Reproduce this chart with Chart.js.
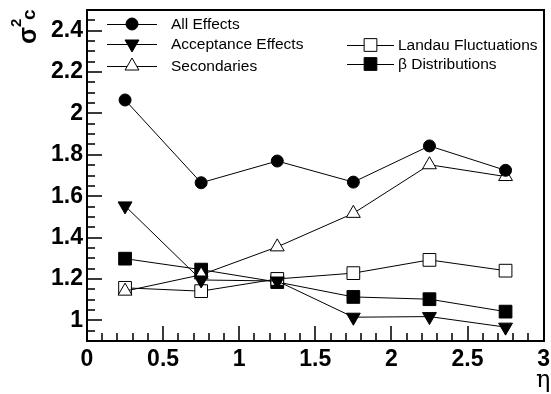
<!DOCTYPE html>
<html>
<head>
<meta charset="utf-8">
<script src="https://cdn.jsdelivr.net/npm/chart.js@4/dist/chart.umd.min.js"></script>
<style>
  html, body { margin: 0; padding: 0; background: #fff; overflow: hidden; }
  #wrap { width: 551px; height: 394px; position: relative; overflow: hidden; }
</style>
</head>
<body>
<div id="wrap"><canvas id="chart" width="555" height="394"></canvas></div>
<script>
// --- dados ---
const etaBins = [0.25, 0.75, 1.25, 1.75, 2.25, 2.75];
const allEffects = [2.065, 1.665, 1.770, 1.668, 1.843, 1.725];
const acceptanceEffects = [1.553, 1.195, 1.190, 1.015, 1.018, 0.967];
const secondaries = [1.141, 1.220, 1.355, 1.517, 1.752, 1.695];
const landauFluct = [1.157, 1.141, 1.200, 1.228, 1.292, 1.240];
const betaDistrib = [1.298, 1.245, 1.185, 1.113, 1.102, 1.042];
const xTicks = [0, 0.5, 1, 1.5, 2, 2.5, 3];
const yTicks = [1, 1.2, 1.4, 1.6, 1.8, 2, 2.2, 2.4];

const toPoints = ys => etaBins.map((x, i) => ({ x: x, y: ys[i] }));

const series = [
  { label: 'All Effects', data: allEffects, style: 'circle', radius: 6, fill: true, rot: 0 },
  { label: 'Acceptance Effects', data: acceptanceEffects, style: 'triangle', radius: 8, fill: true, rot: 180 },
  { label: 'Secondaries', data: secondaries, style: 'triangle', radius: 8, fill: false, rot: 0 },
  { label: 'Landau Fluctuations', data: landauFluct, style: 'rect', radius: 9, fill: false, rot: 0 },
  { label: 'β Distributions', data: betaDistrib, style: 'rect', radius: 9, fill: true, rot: 0 }
];

// posições da legenda (duas colunas, estilo ROOT)
const legendPos = [
  { x: 107, y: 24 }, { x: 107, y: 44 }, { x: 107, y: 66 },
  { x: 347, y: 45 }, { x: 347, y: 64 }
];

// --- ticks para dentro, desenhados antes das séries ---
const rootTicks = {
  id: 'rootTicks',
  beforeDatasetsDraw(chart) {
    const ctx = chart.ctx;
    const xs = chart.scales.x, ys = chart.scales.y;
    const a = chart.chartArea;
    const left = Math.round(a.left), bottom = Math.round(a.bottom);
    ctx.save();
    ctx.fillStyle = '#3a3a3a';
    for (let i = 1; i < 30; i++) {
      const len = (i % 5 === 0) ? 15 : 8;
      const px = Math.round(xs.getPixelForValue(i / 10));
      ctx.fillRect(px - 1, bottom - len, 2, len);
    }
    for (let i = 19; i <= 49; i++) {
      const len = (i % 4 === 0) ? 15 : 8;
      const py = Math.round(ys.getPixelForValue(i / 20));
      ctx.fillRect(left, py - 1, len, 2);
    }
    ctx.restore();
  }
};

// --- moldura, títulos e legenda ---
const rootStyle = {
  id: 'rootStyle',
  afterDraw(chart) {
    const ctx = chart.ctx;
    const a = chart.chartArea;
    const left = Math.round(a.left), right = Math.round(a.right);
    const top = Math.round(a.top), bottom = Math.round(a.bottom);
    ctx.save();

    // moldura
    ctx.fillStyle = '#000';
    ctx.fillRect(left - 1, top - 1, right - left + 2, 2);
    ctx.fillRect(left - 1, bottom - 1, right - left + 2, 2);
    ctx.fillRect(left - 1, top - 1, 2, bottom - top + 2);
    ctx.fillRect(right - 1, top - 1, 2, bottom - top + 2);

    // título do eixo y: sigma^2_c girado
    ctx.save();
    ctx.translate(36, 44);
    ctx.rotate(-Math.PI / 2);
    ctx.textAlign = 'left';
    ctx.textBaseline = 'alphabetic';
    ctx.font = 'bold 25px "Liberation Sans", Arial, sans-serif';
    ctx.fillText('σ', 0, 0);
    ctx.font = 'bold 15px "Liberation Sans", Arial, sans-serif';
    ctx.fillText('2', 17, -15);
    ctx.font = 'bold 19px "Liberation Sans", Arial, sans-serif';
    ctx.fillText('c', 24, -1);
    ctx.restore();

    // título do eixo x
    ctx.font = '24px "DejaVu Serif", serif';
    ctx.textAlign = 'left';
    ctx.textBaseline = 'alphabetic';
    ctx.fillText('η', 536, 387);

    // legenda
    ctx.font = '15.5px "Liberation Sans", Arial, sans-serif';
    ctx.textBaseline = 'middle';
    series.forEach((s, i) => {
      const p = legendPos[i];
      const w = i < 3 ? 50 : 47;
      ctx.lineWidth = 1;
      ctx.strokeStyle = '#000';
      ctx.beginPath();
      ctx.moveTo(p.x, p.y + 0.5);
      ctx.lineTo(p.x + w, p.y + 0.5);
      ctx.stroke();
      ctx.fillStyle = s.fill ? '#000' : '#fff';
      Chart.helpers.drawPoint(ctx, { pointStyle: s.style, radius: s.radius, rotation: s.rot, borderWidth: 1 }, p.x + w / 2, p.y);
      ctx.fillStyle = '#000';
      ctx.fillText(s.label, p.x + (i < 3 ? 64 : 51), p.y + 1);
    });
    ctx.restore();
  }
};

const datasets = series.map(s => ({
  label: s.label,
  data: toPoints(s.data),
  borderColor: '#000',
  borderWidth: 1,
  backgroundColor: s.fill ? '#000' : '#fff',
  pointStyle: s.style,
  pointRadius: s.radius,
  pointRotation: s.rot,
  pointBorderWidth: 1,
  pointBorderColor: '#000',
  pointBackgroundColor: s.fill ? '#000' : '#fff',
  showLine: true,
  tension: 0,
  fill: false
}));

const tickFont = { family: '"Liberation Sans", Arial, sans-serif', size: 23, weight: 'bold' };

new Chart(document.getElementById('chart'), {
  type: 'scatter',
  data: { datasets: datasets },
  options: {
    responsive: false,
    animation: false,
    layout: { padding: { left: 0, right: 0, top: 10, bottom: 0 } },
    plugins: {
      legend: { display: false },
      tooltip: { enabled: false }
    },
    scales: {
      x: {
        type: 'linear',
        min: 0,
        max: 3,
        afterBuildTicks: scale => { scale.ticks = xTicks.map(v => ({ value: v })); },
        afterFit: scale => { scale.height = 53; },
        grid: { display: false, drawTicks: false },
        border: { display: false },
        ticks: {
          color: '#000',
          padding: 5,
          maxRotation: 0,
          autoSkip: false,
          font: tickFont,
          callback: v => String(v)
        }
      },
      y: {
        type: 'linear',
        min: 0.9,
        max: 2.5,
        afterBuildTicks: scale => { scale.ticks = yTicks.map(v => ({ value: v })); },
        afterFit: scale => { scale.width = 87; scale.paddingTop = 0; scale.paddingBottom = 0; },
        grid: { display: false, drawTicks: false },
        border: { display: false },
        ticks: {
          color: '#000',
          padding: 4,
          autoSkip: false,
          font: tickFont,
          callback: v => String(Math.round(v * 10) / 10)
        }
      }
    }
  },
  plugins: [rootTicks, rootStyle]
});
</script>
</body>
</html>
